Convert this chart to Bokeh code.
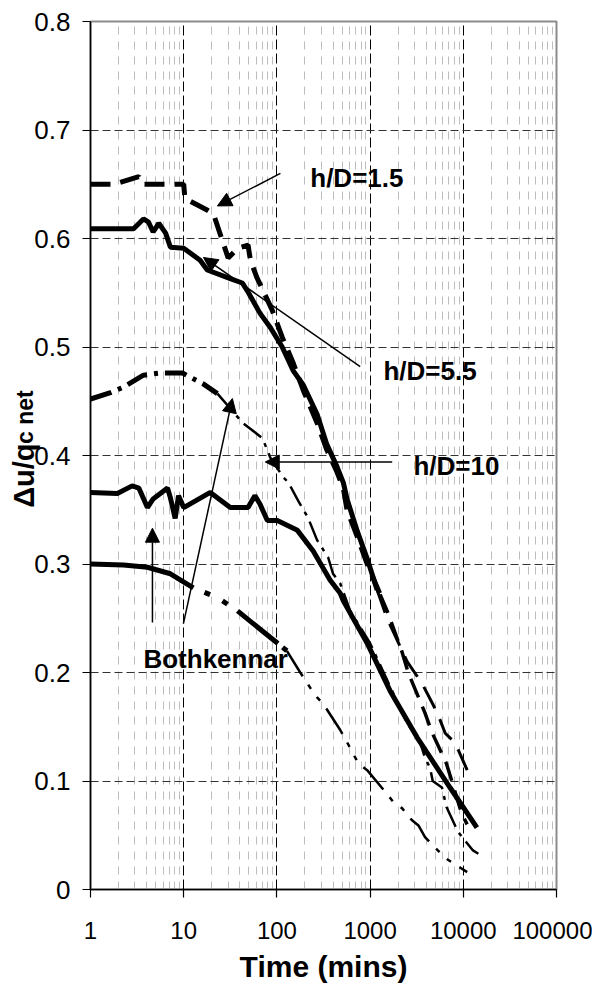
import math
from bokeh.plotting import figure
from bokeh.models import (Range1d, FixedTicker, CustomJSTickFormatter, Label,
                          Arrow, NormalHead, LinearAxis)
from bokeh.embed import file_html
from bokeh.resources import INLINE

# ---------------- data ----------------
x_ticks = [1, 10, 100, 1000, 10000, 100000]
y_ticks = [0, 0.1, 0.2, 0.3, 0.4, 0.5, 0.6, 0.7, 0.8]
y_tick_labels = ["0", "0.1", "0.2", "0.3", "0.4", "0.5", "0.6", "0.7", "0.8"]

# h/D = 1.5 (thick dashed)
hd15_t = [1, 1.8, 3.3, 3.6, 10, 10.3, 18, 21, 30, 38, 49, 52, 61, 71, 89, 114,
          150, 192, 270, 344, 440, 516, 565, 730, 930, 1280, 1520, 2180, 2560,
          3870, 4600, 6600, 9600, 11000]
hd15_v = [0.65, 0.65, 0.657, 0.65, 0.65, 0.637, 0.626, 0.622, 0.582, 0.591,
          0.594, 0.58, 0.564, 0.552, 0.534, 0.509, 0.485, 0.46, 0.43, 0.405,
          0.385, 0.37, 0.35, 0.325, 0.3, 0.272, 0.257, 0.22, 0.2, 0.163, 0.145,
          0.116, 0.07, 0.06]

# h/D = 5.5 (thick solid)
hd55_t = [1, 2.9, 3.7, 4.2, 4.7, 5.4, 6.4, 7.2, 10, 15, 17.9, 31.6, 42.5, 48,
          66, 85, 114, 150, 192, 270, 344, 440, 516, 565, 730, 930, 1190, 1520,
          2500, 3600, 4700, 5300, 6400, 8200, 9900, 11000]
hd55_v = [0.609, 0.609, 0.618, 0.615, 0.606, 0.614, 0.605, 0.592, 0.591, 0.58,
          0.571, 0.563, 0.559, 0.552, 0.531, 0.518, 0.5, 0.478, 0.465, 0.438,
          0.41, 0.39, 0.375, 0.36, 0.33, 0.305, 0.276, 0.25, 0.21, 0.19, 0.171,
          0.162, 0.144, 0.135, 0.119, 0.11]

# h/D = 10 (dash-dot)
hd10_t = [1, 1.64, 2.26, 3.7, 5.6, 7.2, 9.7, 16.2, 23, 43, 70, 85, 117, 133,
          170, 215, 270, 355, 400, 478, 610, 1000, 2500, 3400, 3900, 4400, 4700,
          5900, 6600, 8800, 12700, 14500]
hd10_v = [0.452, 0.458, 0.463, 0.474, 0.476, 0.476, 0.476, 0.466, 0.457, 0.43,
          0.416, 0.398, 0.38, 0.375, 0.358, 0.343, 0.322, 0.306, 0.291, 0.282,
          0.257, 0.227, 0.153, 0.137, 0.121, 0.112, 0.1, 0.094, 0.076, 0.053,
          0.036, 0.033]

# Bothkennar (thick solid)
both_a_t = [1, 1.94, 2.8, 3.3, 4.08, 4.7, 6.7, 7.2, 8.1, 8.8, 10, 19.3, 31.6,
            49, 58, 66, 79, 101, 166, 245, 373, 478, 516, 930, 1640, 3200, 7200,
            14000]
both_a_v = [0.366, 0.365, 0.372, 0.37, 0.352, 0.36, 0.37, 0.361, 0.342, 0.363,
            0.352, 0.366, 0.352, 0.352, 0.363, 0.355, 0.34, 0.34, 0.331, 0.312,
            0.285, 0.273, 0.266, 0.227, 0.183, 0.14, 0.094, 0.057]

# Bothkennar (solid start, then dash-dot-dot)
both_b_t = [1, 2.26, 4.08, 7.2, 12.7, 23, 37.6, 54, 128, 178, 240, 270, 315,
            478, 540, 750, 930, 1520, 1800, 2200, 2800, 3300, 3900, 6400, 9300,
            11000]
both_b_v = [0.3, 0.299, 0.297, 0.291, 0.278, 0.269, 0.257, 0.246, 0.22, 0.2,
            0.183, 0.177, 0.171, 0.147, 0.139, 0.116, 0.11, 0.088, 0.08, 0.075,
            0.064, 0.059, 0.048, 0.029, 0.02, 0.016]

FONT = "Liberation Sans"

# ---------------- figure ----------------
p = figure(width=592, height=990, x_axis_type="log",
           x_range=Range1d(1, 100000), y_range=Range1d(0, 0.8),
           output_backend="svg", toolbar_location=None,
           min_border_left=90, min_border_right=36, min_border_top=21,
           min_border_bottom=101)
p.background_fill_color = "white"
p.border_fill_color = "white"
p.outline_line_color = "#8c8c8c"
p.outline_line_width = 2

minor = [k * 10 ** d for d in range(0, 5) for k in range(2, 10)]
p.xaxis.ticker = FixedTicker(ticks=x_ticks, minor_ticks=minor)
p.yaxis.ticker = FixedTicker(ticks=y_ticks)
p.xaxis.formatter = CustomJSTickFormatter(code="return tick.toFixed(0);")
p.yaxis.major_label_overrides = {t: s for t, s in zip(y_ticks, y_tick_labels)}

for ax in (p.xaxis, p.yaxis):
    ax.axis_line_color = "black"
    ax.axis_line_width = 1.5
    ax.major_tick_line_color = "black"
    ax.major_tick_line_width = 1.2
    ax.major_tick_out = 8
    ax.major_tick_in = 0
    ax.minor_tick_out = 0
    ax.minor_tick_in = 0
    ax.major_label_text_font = FONT
    ax.major_label_text_color = "black"
    ax.axis_label_text_font = FONT
    ax.axis_label_text_font_style = "bold"
    ax.axis_label_text_color = "black"
p.xaxis.major_label_text_font_size = "24px"
p.yaxis.major_label_text_font_size = "26px"
p.yaxis.major_label_text_align = "right"
p.xaxis.major_label_standoff = 24
p.yaxis.major_label_standoff = 12

p.xaxis.axis_label = "Time (mins)"
p.xaxis.axis_label_text_font_size = "30px"
p.xaxis.axis_label_standoff = 8

NB = "\u00a0"
p.yaxis.axis_label = "\u0394u/q" + NB * 5
p.yaxis.axis_label_text_font_size = "29px"
p.yaxis.axis_label_standoff = -9

sub_axis = LinearAxis(ticker=FixedTicker(ticks=[]), axis_line_color=None,
                      major_tick_line_color=None, minor_tick_line_color=None,
                      axis_label=NB * 12 + "c net", axis_label_standoff=-32,
                      axis_label_text_font=FONT,
                      axis_label_text_font_style="bold",
                      axis_label_text_font_size="23px",
                      axis_label_text_color="black")
p.add_layout(sub_axis, "left")

p.xgrid.grid_line_color = "black"
p.xgrid.grid_line_dash = "10 4"
p.xgrid.grid_line_width = 1
p.xgrid.minor_grid_line_color = "#bdbdbd"
p.xgrid.minor_grid_line_dash = "8 7"
p.xgrid.minor_grid_line_width = 1
p.ygrid.grid_line_color = "#333333"
p.ygrid.grid_line_dash = "8 4"
p.ygrid.grid_line_width = 1

# ---------------- curves ----------------
s = 25
p.line(hd15_t[:s + 1], hd15_v[:s + 1], line_color="black", line_width=5,
       line_dash="20 10")
p.line(hd15_t[s:], hd15_v[s:], line_color="black", line_width=3.5,
       line_dash="20 10")
s = 26
p.line(hd55_t[:s + 1], hd55_v[:s + 1], line_color="black", line_width=5)
p.line(hd55_t[s:], hd55_v[s:], line_color="black", line_width=3,
       line_dash="24 12")
s = 8
p.line(hd10_t[:s + 1], hd10_v[:s + 1], line_color="black", line_width=5,
       line_dash="22 7 4 7")
p.line(hd10_t[s:], hd10_v[s:], line_color="black", line_width=2.5,
       line_dash="22 7 4 7")
p.line(both_a_t, both_a_v, line_color="black", line_width=5)
s1, s2 = 4, 8
p.line(both_b_t[:s1 + 1], both_b_v[:s1 + 1], line_color="black", line_width=5)
p.line(both_b_t[s1:s2 + 1], both_b_v[s1:s2 + 1], line_color="black",
       line_width=5, line_dash="0 12 6 14 6 12 40")
p.line(both_b_t[s2:], both_b_v[s2:], line_color="black", line_width=2.5,
       line_dash="30 10 5 10 5 10")

# ---------------- annotations ----------------
def txt(x, y, s, size="26px"):
    p.add_layout(Label(x=x, y=y, text=s, text_font=FONT,
                       text_font_size=size, text_font_style="bold",
                       text_color="black", text_align="left",
                       text_baseline="alphabetic"))

def arrow(x0, y0, x1, y1):
    p.add_layout(Arrow(end=NormalHead(size=14, fill_color="black",
                                      line_color="black"),
                       x_start=x0, y_start=y0, x_end=x1, y_end=y1,
                       line_color="black", line_width=1.5))

txt(228, 0.6553, "h/D=1.5")
txt(1392, 0.4777, "h/D=5.5")
txt(2917, 0.3899, "h/D=10")
txt(3.70, 0.2129, "Bothkennar")

arrow(109, 0.66, 23, 0.630)
arrow(783, 0.482, 16.3, 0.5825)
arrow(1726, 0.394, 75, 0.394)
arrow(4.62, 0.246, 4.62, 0.333)
arrow(9.93, 0.245, 33.3, 0.4525)

open("out.html", "w").write(file_html(p, INLINE))
